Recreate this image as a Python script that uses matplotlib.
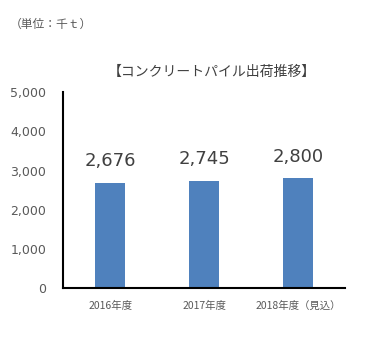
import matplotlib.pyplot as plt

plt.rcParams['font.family'] = ['Noto Sans CJK JP', 'DejaVu Sans']

categories = ['2016年度', '2017年度', '2018年度（見込）']
values = [2676, 2745, 2800]
yticks = [0, 1000, 2000, 3000, 4000, 5000]

fig = plt.figure(figsize=(3.87, 3.62), dpi=100)
ax = fig.add_axes([0.163, 0.204, 0.729, 0.541])

x = range(len(categories))
ax.bar(x, values, width=0.32, color='#4F81BD')
for i, v in zip(x, values):
    ax.text(i, v + 330, '{:,}'.format(v), ha='center', va='bottom',
            fontsize=13, color='#404040', family='DejaVu Sans')

ax.set_xlim(-0.5, 2.5)
ax.set_ylim(0, 5000)
ax.set_xticks(list(x))
ax.set_xticklabels(categories, fontsize=7.5, color='#595959')
ax.set_yticks(yticks)
ax.set_yticklabels(['{:,}'.format(t) for t in yticks], fontsize=9,
                   color='#595959', family='DejaVu Sans')
ax.tick_params(length=0, pad=12)
ax.tick_params(axis='x', pad=9)
for s in ['top', 'right']:
    ax.spines[s].set_visible(False)
for s in ['left', 'bottom']:
    ax.spines[s].set_linewidth(1.5)
    ax.spines[s].set_color('black')

fig.text(0.548, 0.80, '【コンクリートパイル出荷推移】', ha='center', va='center',
         fontsize=10, color='#404040')
fig.text(0.025, 0.932, '（単位：千ｔ）', ha='left', va='center',
         fontsize=8.5, color='#595959')

fig.savefig('out.png', dpi=100)
